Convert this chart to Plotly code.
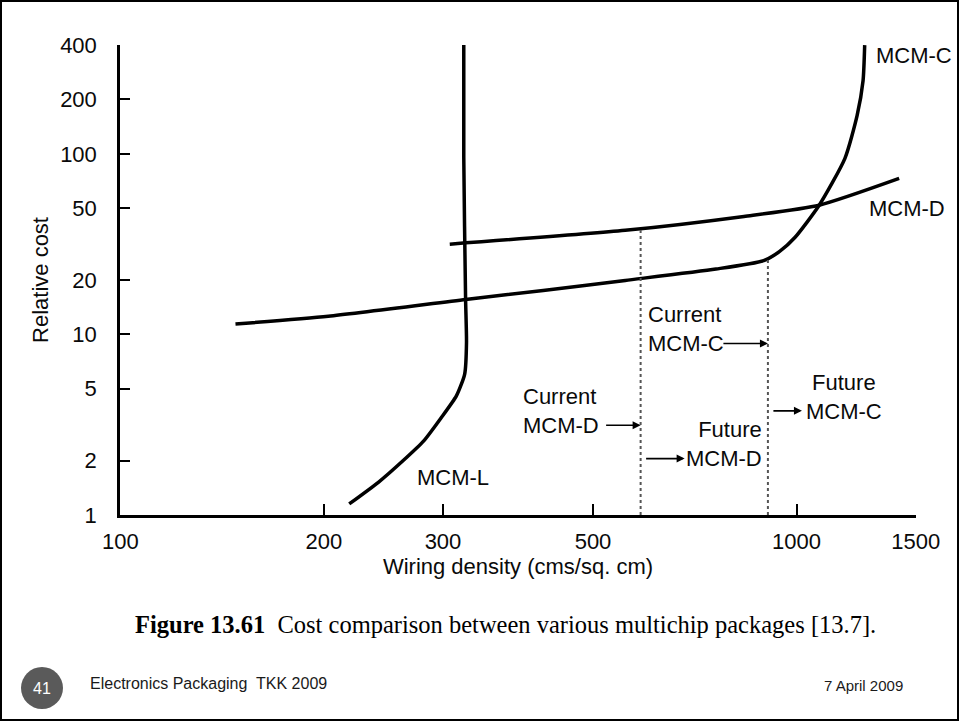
import numpy as np
import plotly.graph_objects as go

# Wiring density (cms/sq. cm) and relative cost along each package curve
MCM_L_DENSITY = [218, 241, 262, 281, 298, 314, 323, 325, 324, 322, 322]
MCM_L_COST = [1.15, 1.52, 2.0, 2.57, 3.44, 4.56, 6.03, 9.0, 15.6, 96, 400]

MCM_C_DENSITY = [148, 203, 324, 422, 558, 760, 894, 944, 995, 1080, 1179, 1229, 1254, 1261]
MCM_C_COST = [11.4, 12.6, 15.6, 17.5, 19.9, 23.0, 25.6, 28.8, 34.5, 51.9, 94.4, 163, 254, 400]

MCM_D_DENSITY = [307, 558, 836, 1080, 1418]
MCM_D_COST = [31.6, 37.7, 45.0, 51.9, 73.0]

# Current / future technology limits (dotted verticals)
LIMIT_DENSITY = [588, 907]
LIMIT_TOP_COST = [38.5, 26.4]

X_TICKS = [100, 200, 300, 500, 1000, 1500]
Y_TICKS = [1, 2, 5, 10, 20, 50, 100, 200, 400]

# Slide geometry (pixels) used to place decorations outside the axes
W, H = 960, 723
L, R, T, B = 120, 916, 45, 515


def px(x):
    return (x - L) / (R - L)


def py(y):
    return (B - y) / (B - T)


SANS = "Liberation Sans, Arial, Helvetica, sans-serif"
SERIF = "Liberation Serif, Times New Roman, serif"
INK = "#0a0a0a"
FS = 22

fig = go.Figure()

for xs, ys, name in [
    (MCM_L_DENSITY, MCM_L_COST, "MCM-L"),
    (MCM_C_DENSITY, MCM_C_COST, "MCM-C"),
    (MCM_D_DENSITY, MCM_D_COST, "MCM-D"),
]:
    fig.add_trace(go.Scatter(
        x=xs, y=ys, name=name, mode="lines",
        line=dict(color="black", width=3.5, shape="spline", smoothing=0.6),
        cliponaxis=False, hoverinfo="skip",
    ))

for xd, top in zip(LIMIT_DENSITY, LIMIT_TOP_COST):
    fig.add_trace(go.Scatter(
        x=[xd, xd], y=[1, top], mode="lines",
        line=dict(color="#555555", width=2, dash="dot"),
        cliponaxis=False, hoverinfo="skip",
    ))

label_font = dict(family=SANS, size=FS, color=INK)


def label(x, y, text, xanchor="left", xshift=0, yshift=0, align="left"):
    fig.add_annotation(x=np.log10(x), y=np.log10(y), text=text, showarrow=False,
                       xanchor=xanchor, yanchor="middle", xshift=xshift,
                       yshift=yshift, align=align, font=label_font)


def arrow(x, y, ax, xshift=0):
    fig.add_annotation(x=np.log10(x), y=np.log10(y), text="", showarrow=True,
                       ax=ax, ay=0, xshift=xshift, arrowhead=2, arrowsize=1,
                       arrowwidth=1.6, arrowcolor="black")


# Two-line labels are lifted by half a line so the arrow meets the second line
HALF_LINE = 0.65 * FS

# Curve names
label(273, 1.61, "MCM-L")
label(1261, 350, "MCM-C", xshift=9)
label(1298, 50, "MCM-D", xshift=-6)

# Current MCM-C region
label(LIMIT_DENSITY[0], 8.9, "Current<br>MCM-C", xshift=5, yshift=HALF_LINE)
arrow(LIMIT_DENSITY[1], 8.9, ax=-46)

# Current / future MCM-D
label(LIMIT_DENSITY[0], 3.14, "Current<br>MCM-D", xanchor="right", xshift=-40,
      yshift=HALF_LINE)
arrow(LIMIT_DENSITY[0], 3.14, ax=-36)
label(LIMIT_DENSITY[1], 2.05, "Future<br>MCM-D", xanchor="right", xshift=-4,
      yshift=HALF_LINE, align="right")
arrow(LIMIT_DENSITY[0], 2.05, ax=-40, xshift=44)

# Future MCM-C
label(LIMIT_DENSITY[1], 3.77, "Future<br>MCM-C", xshift=36, yshift=HALF_LINE,
      align="center")
arrow(LIMIT_DENSITY[1], 3.77, ax=-30, xshift=34)

axis_common = dict(
    type="log", showgrid=False, zeroline=False,
    showline=True, linecolor="black", linewidth=2.5,
    ticks="inside", tickcolor="black", tickwidth=1.6,
    tickfont=dict(family=SANS, size=FS, color=INK),
)

fig.update_xaxes(
    **axis_common,
    range=[np.log10(100) - 0.0005, np.log10(1500) + 0.0005],
    tickvals=X_TICKS, ticktext=[str(v) for v in X_TICKS],
    ticklen=11, ticklabelstandoff=5,
    title=dict(text="Wiring density (cms/sq. cm)", standoff=2,
               font=dict(family=SANS, size=FS, color=INK)),
)
fig.update_yaxes(
    **axis_common,
    range=[-0.0005, np.log10(400) + 0.0005],
    tickvals=Y_TICKS, ticktext=[str(v) for v in Y_TICKS],
    ticklen=10, ticklabelstandoff=16,
    title=dict(text="Relative cost", standoff=6,
               font=dict(family=SANS, size=FS, color=INK)),
)

# Slide frame, caption and footer
shapes = [
    dict(type="rect", xref="paper", yref="paper",
         x0=px(1), x1=px(958), y0=py(720), y1=py(1),
         line=dict(color="black", width=2), layer="below"),
    dict(type="circle", xref="paper", yref="paper",
         x0=px(21), x1=px(63), y0=py(709), y1=py(667),
         fillcolor="#5a5a5a", line=dict(width=0)),
]

texts = [
    dict(x=px(133), y=py(624), xanchor="left",
         text="<b>Figure 13.61</b>  Cost comparison between various multichip packages [13.7].",
         font=dict(family=SERIF, size=24.5, color="black")),
    dict(x=px(42), y=py(688), xanchor="center", text="41",
         font=dict(family=SANS, size=16, color="white")),
    dict(x=px(88), y=py(683), xanchor="left", text="Electronics Packaging\u00a0 TKK 2009",
         font=dict(family=SANS, size=16, color="#1a1a1a")),
    dict(x=px(905), y=py(685), xanchor="right", text="7 April 2009",
         font=dict(family=SANS, size=15, color="#1a1a1a")),
]
for t in texts:
    fig.add_annotation(xref="paper", yref="paper", yanchor="middle",
                       showarrow=False, **t)

fig.update_layout(
    width=W, height=H,
    margin=dict(l=L, r=W - R, t=T, b=H - B),
    plot_bgcolor="white", paper_bgcolor="white",
    showlegend=False, shapes=shapes,
)

fig.write_html("out.html")
